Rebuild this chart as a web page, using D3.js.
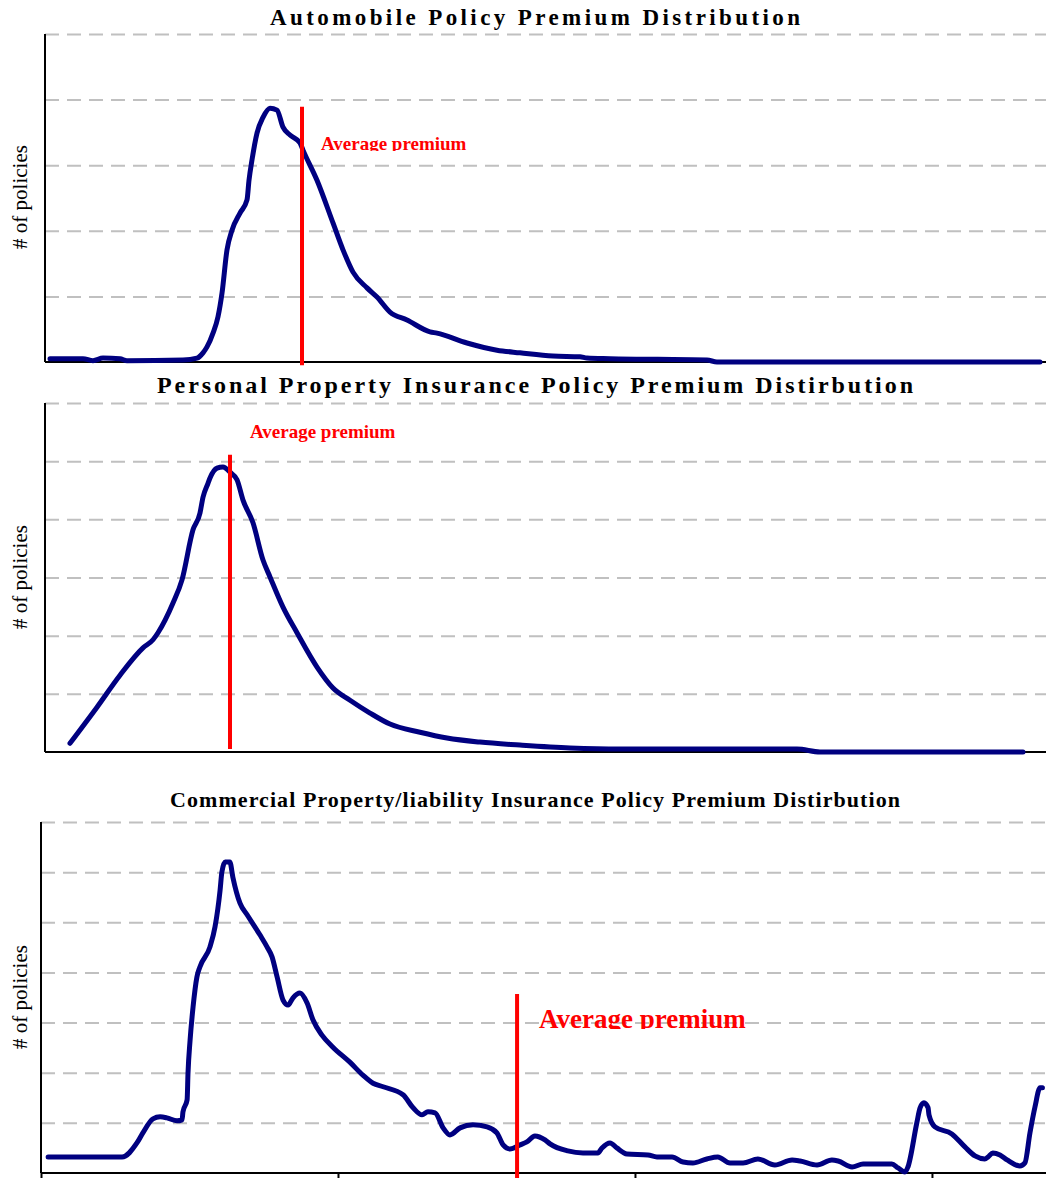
<!DOCTYPE html>
<html>
<head>
<meta charset="utf-8">
<script src="https://cdn.jsdelivr.net/npm/d3@7"></script>
<style>
  body { margin: 0; background: #fff; }
  svg text { font-family: "Liberation Serif", "Times New Roman", serif; }
</style>
</head>
<body>
<div id="canvas"></div>
<script>
// values: premium bin (x) and number of policies (y)
let autoPremium = [0.5, 3.8, 4.8, 5.8, 7.5, 8.2, 13.8, 15.2, 15.8, 16.2, 16.8, 17.3, 17.7, 18.2, 18.7, 19.5,
  20.2, 20.4, 20.7, 21.2, 21.8, 22.5, 23.2, 23.8, 24.5, 25.5, 25.8, 27.2, 28.8, 29.8, 30.8, 32.2, 33.2,
  34.5, 36.2, 38.5, 39.2, 42.2, 45.2, 47.5, 50.8, 53.5, 54.2, 56.5, 66.2, 67.2, 99.5]
let autoCount = [5, 5, 2, 6, 5, 2, 3, 6, 14, 23, 44, 69, 105, 171, 201, 227,
  247, 277, 308, 349, 373, 387, 384, 358, 346, 334, 323, 277, 212, 171, 137, 113, 99,
  76, 64, 46, 44, 29, 18, 14, 9, 8, 6, 5, 3, 0, 0]

let personalPremium = [2.5, 5.2, 7.5, 9.8, 10.8, 11.3, 12.8, 13.7, 14.8, 15.5, 15.8, 16.3, 16.5, 17.2, 17.8,
  18.5, 19.2, 19.8, 20.8, 21.8, 22.5, 23.8, 25.2, 27.2, 28.8, 30.5, 32.5, 34.5, 37.5, 40.2, 43.5, 47.5,
  52.5, 57.5, 75.2, 77.5, 97.8]
let personalCount = [15, 77, 132, 179, 193, 205, 256, 296, 382, 411, 438, 462, 471, 488, 490,
  481, 468, 433, 394, 330, 301, 249, 205, 146, 110, 89, 67, 48, 34, 24, 17, 12,
  7, 5, 5, 0, 0]

let commercialPremium = [0.24, 2.73, 3.23, 3.43, 3.77, 4.01, 4.24, 4.58, 4.75, 4.78, 4.92, 4.95, 5.02, 5.12,
  5.25, 5.35, 5.69, 5.86, 6.03, 6.09, 6.2, 6.36, 6.46, 6.7, 6.94, 7.37, 7.61, 7.78, 7.95, 8.15, 8.32, 8.48,
  8.72, 8.96, 9.16, 9.46, 9.83, 10.4, 10.84, 11.18, 11.52, 12.19, 12.53, 12.83, 13.03, 13.27, 13.54, 13.77,
  14.11, 14.55, 15.02, 15.35, 15.56, 15.79, 16.13, 16.36, 16.63, 16.97, 17.14, 17.74, 18.25, 18.75, 18.89,
  19.16, 19.39, 19.73, 20.44, 20.74, 21.25, 21.62, 21.95, 22.42, 22.79, 23.2, 23.64, 24.14, 24.71, 25.29,
  25.56, 26.13, 26.63, 26.84, 27.31, 27.68, 28.65, 28.86, 29.09, 29.19, 29.49, 29.6, 29.73, 29.87, 29.9,
  30.1, 30.67, 31.11, 31.45, 31.78, 31.89, 32.05, 32.29, 32.53, 32.96, 33.13, 33.3, 33.47, 33.64, 33.72]
let commercialCount = [32, 32, 60, 80, 108, 112, 110, 104, 106, 122, 146, 199, 265, 331,
  391, 411, 451, 491, 564, 600, 620, 620, 590, 538, 515, 475, 451, 431, 391, 345, 335, 349,
  359, 339, 305, 275, 251, 221, 195, 179, 172, 156, 130, 116, 122, 120, 90, 76,
  90, 96, 92, 80, 56, 48, 56, 62, 74, 66, 58, 44, 40, 40, 50,
  60, 50, 38, 36, 32, 32, 22, 20, 28, 32, 20, 20, 28, 16, 26,
  24, 16, 26, 24, 12, 18, 18, 10, 2, 12, 100, 130, 140, 130, 116,
  92, 78, 52, 34, 28, 32, 40, 36, 26, 14, 20, 80, 132, 170, 170]

let titles = [
  "Automobile Policy Premium Distribution",
  "Personal Property Insurance Policy Premium Distirbution",
  "Commercial Property/liability Insurance Policy Premium Distirbution"
]
let averagePremium = [25.7, 18.5, 16.03]
let countTicks = [[100, 200, 300, 400, 500], [100, 200, 300, 400, 500, 600], [100, 200, 300, 400, 500, 600, 700]]
let premiumTicks = [0, 10, 20, 30]

let svg = {}

window.onload = function () { setup() }

function setup() {
  svg = d3.select("#canvas")
    .append("svg")
    .attr("width", 1046)
    .attr("height", 1178)

  drawChart({
    id: "auto", title: titles[0], px: autoPremium, py: autoCount, avg: averagePremium[0], ticks: countTicks[0],
    xDomain: [0, 100], yMax: 500, left: 45, right: 1045, top: 34, bottom: 362,
    titleX: 270, titleY: 25, titleLen: 530, titleSize: 23,
    avgTop: 389, avgBottom: -5, labelX: 27.6, labelY: 323, labelSize: 19, clipLabel: true,
    yLabelY: 197, xAxis: false
  })

  drawChart({
    id: "personal", title: titles[1], px: personalPremium, py: personalCount, avg: averagePremium[1], ticks: countTicks[1],
    xDomain: [0, 100], yMax: 600, left: 45, right: 1045, top: 403, bottom: 752,
    titleX: 157, titleY: 393, titleLen: 756, titleSize: 24,
    avgTop: 511, avgBottom: 5, labelX: 20.5, labelY: 540, labelSize: 19, clipLabel: false,
    yLabelY: 577, xAxis: false
  })

  drawChart({
    id: "commercial", title: titles[2], px: commercialPremium, py: commercialCount, avg: averagePremium[2], ticks: countTicks[2],
    xDomain: [0, 33.84], yMax: 700, left: 41, right: 1046, top: 822, bottom: 1173,
    titleX: 170, titleY: 807, titleLen: 730, titleSize: 22,
    avgTop: 357, avgBottom: -12, labelX: 16.77, labelY: 289, labelSize: 27, clipLabel: true,
    yLabelY: 997, xAxis: true
  })
}

function drawChart(c) {
  let x = d3.scaleLinear().domain(c.xDomain).range([c.left, c.right])
  let y = d3.scaleLinear().domain([0, c.yMax]).range([c.bottom, c.top])
  let g = svg.append("g")

  // dashed gridlines
  g.append("g")
    .attr("transform", `translate(${c.left},0)`)
    .call(d3.axisLeft(y).tickValues(c.ticks).tickSize(-(1046 - c.left)).tickFormat(""))
    .call(a => a.select(".domain").remove())
    .selectAll("line")
    .attr("stroke", "#c0c0c0")
    .attr("stroke-width", 2)
    .attr("stroke-dasharray", "14,8")

  // axes
  g.append("line")
    .attr("x1", c.left).attr("x2", c.left)
    .attr("y1", y(c.yMax)).attr("y2", y(0))
    .attr("stroke", "#000").attr("stroke-width", 2)

  if (c.xAxis) {
    let xa = g.append("g")
      .attr("transform", `translate(0,${y(0)})`)
      .call(d3.axisBottom(x).tickValues(premiumTicks).tickSize(6).tickFormat(""))
    xa.select(".domain").remove()
    xa.selectAll("line").attr("stroke", "#000").attr("stroke-width", 2)
  }
  g.append("line")
    .attr("x1", c.left).attr("x2", 1046)
    .attr("y1", y(0)).attr("y2", y(0))
    .attr("stroke", "#000").attr("stroke-width", 2)

  // distribution curve
  let pts = c.px.map((v, i) => [v, c.py[i]])
  let line = d3.line()
    .x(d => x(d[0]))
    .y(d => y(d[1]))
    .curve(d3.curveMonotoneX)

  g.append("path")
    .datum(pts)
    .attr("d", line)
    .attr("fill", "none")
    .attr("stroke", "#000080")
    .attr("stroke-width", 5)
    .attr("stroke-linejoin", "round")
    .attr("stroke-linecap", "round")

  // average premium marker
  g.append("line")
    .attr("x1", x(c.avg)).attr("x2", x(c.avg))
    .attr("y1", y(c.avgTop)).attr("y2", y(c.avgBottom))
    .attr("stroke", "#ff0000")
    .attr("stroke-width", 4)

  let label = g.append("text")
    .attr("x", x(c.labelX))
    .attr("y", y(c.labelY))
    .attr("fill", "#ff0000")
    .attr("font-weight", "bold")
    .attr("font-size", c.labelSize)
    .text("Average premium")

  if (c.clipLabel) {
    svg.append("clipPath")
      .attr("id", "clip-" + c.id)
      .append("rect")
      .attr("x", 0).attr("y", 0)
      .attr("width", 1046).attr("height", y(c.labelY) + 1)
    label.attr("clip-path", `url(#clip-${c.id})`)
  }

  // titles
  g.append("text")
    .attr("x", c.titleX)
    .attr("y", c.titleY)
    .attr("font-weight", "bold")
    .attr("font-size", c.titleSize)
    .attr("textLength", c.titleLen)
    .attr("lengthAdjust", "spacing")
    .attr("fill", "#000")
    .text(c.title)

  g.append("text")
    .attr("transform", `translate(27,${c.yLabelY}) rotate(-90)`)
    .attr("text-anchor", "middle")
    .attr("font-size", 21)
    .attr("fill", "#000")
    .text("# of policies")
}
</script>
</body>
</html>
